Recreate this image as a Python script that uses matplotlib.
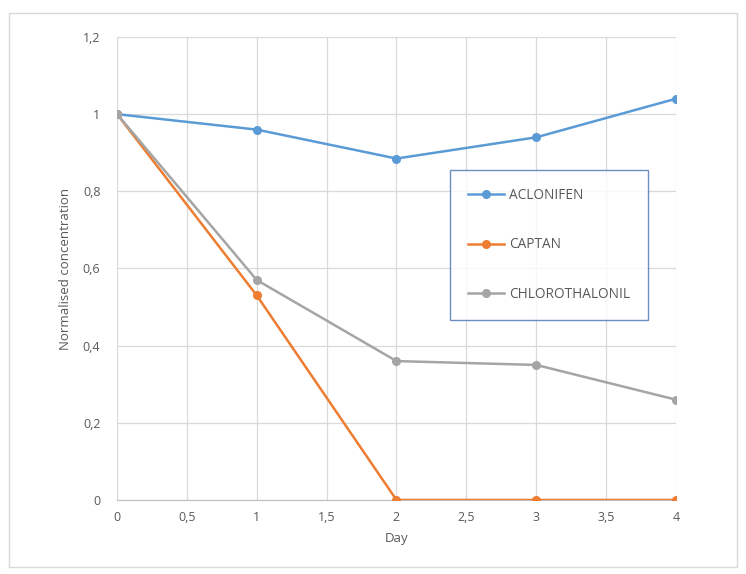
import matplotlib
matplotlib.use("Agg")
import matplotlib.pyplot as plt
from matplotlib.patches import Rectangle
from matplotlib.ticker import FuncFormatter

# data
days = [0, 1, 2, 3, 4]
aclonifen = [1.0, 0.96, 0.885, 0.94, 1.04]
captan = [1.0, 0.53, 0.0, 0.0, 0.0]
chlorothalonil = [1.0, 0.57, 0.36, 0.35, 0.26]

series = [("ACLONIFEN", aclonifen, "#5B9BD5"),
          ("CAPTAN", captan, "#ED7D31"),
          ("CHLOROTHALONIL", chlorothalonil, "#A5A5A5")]

plt.rcParams['font.family'] = ['Open Sans', 'DejaVu Sans']

fig = plt.figure(figsize=(7.46, 5.74), dpi=100)
ax = fig.add_axes([0.157, 0.129, 0.749, 0.8065])

# outer chart border
fig.patches.append(Rectangle((0.012, 0.012), 0.976, 0.966, transform=fig.transFigure,
                             fill=False, edgecolor="#d9d9d9", linewidth=1))

for name, vals, col in series:
    ax.plot(days, vals, color=col, lw=1.8, marker="o", markersize=5.5, label=name, zorder=3)

ax.set_xlim(0, 4)
ax.set_ylim(0, 1.2)
ax.set_xticks([0, 0.5, 1, 1.5, 2, 2.5, 3, 3.5, 4])
ax.set_yticks([0, 0.2, 0.4, 0.6, 0.8, 1.0, 1.2])

fmt = FuncFormatter(lambda v, p: ("%g" % round(v, 2)).replace(".", ","))
ax.xaxis.set_major_formatter(fmt)
ax.yaxis.set_major_formatter(fmt)

ax.grid(True, color="#d9d9d9", lw=0.9)
ax.set_axisbelow(True)
for s in ["top", "right", "left"]:
    ax.spines[s].set_visible(False)
ax.spines["bottom"].set_color("#bfbfbf")
ax.tick_params(length=0, labelsize=9, colors="#595959", pad=8)
ax.tick_params(axis="y", pad=12)

ax.set_xlabel("Day", fontsize=9.5, color="#595959", labelpad=6)
ax.set_ylabel("Normalised concentration", fontsize=9.5, color="#595959", labelpad=8)

leg = ax.legend(loc="upper left", bbox_to_anchor=(450 / 746, 1 - 170 / 574),
                bbox_transform=fig.transFigure, frameon=True, fancybox=False,
                fontsize=9.8, labelspacing=2.55, handlelength=2.7, handletextpad=0.35,
                borderpad=1.3, borderaxespad=0, labelcolor="#595959")
leg.get_frame().set_edgecolor("#4a72b0")
leg.get_frame().set_linewidth(1)

fig.savefig("out.png", dpi=100)
